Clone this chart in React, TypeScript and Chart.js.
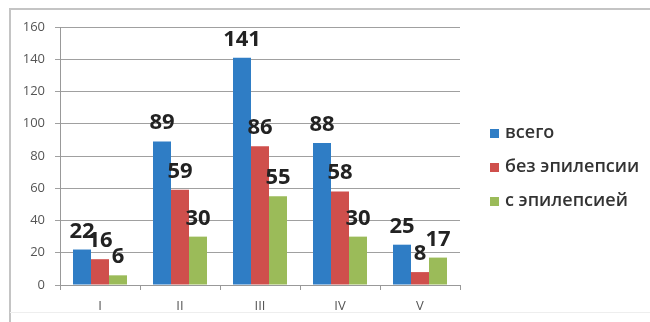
import React, { useEffect, useRef } from "react";
import { Chart, registerables } from "chart.js";

Chart.register(...registerables);

const categories = ["I", "II", "III", "IV", "V"];
const seriesNames = ["всего", "без эпилепсии", "с эпилепсией"];
const totalValues = [22, 89, 141, 88, 25];
const noEpilepsyValues = [16, 59, 86, 58, 8];
const epilepsyValues = [6, 30, 55, 30, 17];
const seriesColors = ["#2f7dc5", "#cf4f4c", "#9bbb59"];
const yTicks = [0, 20, 40, 60, 80, 100, 120, 140, 160];

const FONT = "'Open Sans', 'Noto Sans', sans-serif";

const framePlugin = {
  id: "frame",
  beforeDraw(chart: any) {
    const ctx = chart.ctx;
    ctx.save();
    ctx.fillStyle = "#ffffff";
    ctx.fillRect(0, 0, chart.width, chart.height);
    ctx.strokeStyle = "#c4c4c4";
    ctx.lineWidth = 2;
    ctx.beginPath();
    ctx.moveTo(10, chart.height);
    ctx.lineTo(10, 9);
    ctx.lineTo(chart.width, 9);
    ctx.stroke();
    ctx.strokeStyle = "#eeeeee";
    ctx.lineWidth = 1;
    ctx.beginPath();
    ctx.moveTo(10, 312.5);
    ctx.lineTo(chart.width, 312.5);
    ctx.stroke();
    ctx.restore();
  },
};

const labelPlugin = {
  id: "valueLabels",
  afterDatasetsDraw(chart: any) {
    const ctx = chart.ctx;
    ctx.save();
    ctx.font = `bold 22px ${FONT}`;
    ctx.fillStyle = "#222222";
    ctx.textAlign = "center";
    ctx.textBaseline = "alphabetic";
    chart.data.datasets.forEach((ds: any, i: number) => {
      const meta = chart.getDatasetMeta(i);
      meta.data.forEach((bar: any, j: number) => {
        ctx.fillText(String(ds.data[j]), bar.x, bar.y - 12);
      });
    });
    ctx.restore();
  },
};

const legendPlugin = {
  id: "customLegend",
  afterDraw(chart: any) {
    const ctx = chart.ctx;
    ctx.save();
    ctx.font = `600 18px ${FONT}`;
    ctx.textBaseline = "middle";
    ctx.textAlign = "left";
    const startY = 133;
    const step = 34;
    chart.data.datasets.forEach((ds: any, i: number) => {
      const y = startY + i * step;
      ctx.fillStyle = ds.backgroundColor;
      ctx.fillRect(490, y - 4, 9, 9);
      ctx.fillStyle = "#333333";
      ctx.fillText(ds.label, 505, y);
    });
    ctx.restore();
  },
};

export default function App() {
  const canvasRef = useRef<HTMLCanvasElement | null>(null);

  useEffect(() => {
    if (!canvasRef.current) return;
    const datasets = [totalValues, noEpilepsyValues, epilepsyValues].map((d, i) => ({
      label: seriesNames[i],
      data: d,
      backgroundColor: seriesColors[i],
      borderWidth: 0,
      barPercentage: 1,
      categoryPercentage: 0.675,
    }));
    const chart = new Chart(canvasRef.current, {
      type: "bar",
      data: { labels: categories, datasets },
      options: {
        responsive: false,
        animation: false,
        layout: { padding: { top: 27, right: 190, bottom: 0, left: 0 } },
        plugins: { legend: { display: false }, tooltip: { enabled: false } },
        scales: {
          x: {
            grid: {
              drawOnChartArea: false,
              drawTicks: true,
              tickLength: 5,
              color: "#999999",
              offset: true,
            },
            border: { display: true, color: "#999999" },
            ticks: { color: "#555555", font: { family: FONT, size: 13 }, padding: 8 },
            afterFit(scale: any) {
              scale.height = 37;
            },
          },
          y: {
            min: 0,
            max: 160,
            afterBuildTicks(scale: any) {
              scale.ticks = yTicks.map((v) => ({ value: v }));
            },
            grid: { color: "#a0a0a0", tickLength: 5 },
            border: { display: true, color: "#999999" },
            ticks: { color: "#555555", font: { family: FONT, size: 13 }, padding: 10 },
            afterFit(scale: any) {
              scale.width = 60;
            },
          },
        },
      },
      plugins: [framePlugin, labelPlugin, legendPlugin],
    } as any);
    return () => chart.destroy();
  }, []);

  return (
    <div style={{ position: "fixed", left: 0, top: 0, width: 650, height: 322, background: "#fff" }}>
      <canvas ref={canvasRef} width={650} height={322} style={{ display: "block" }} />
    </div>
  );
}
